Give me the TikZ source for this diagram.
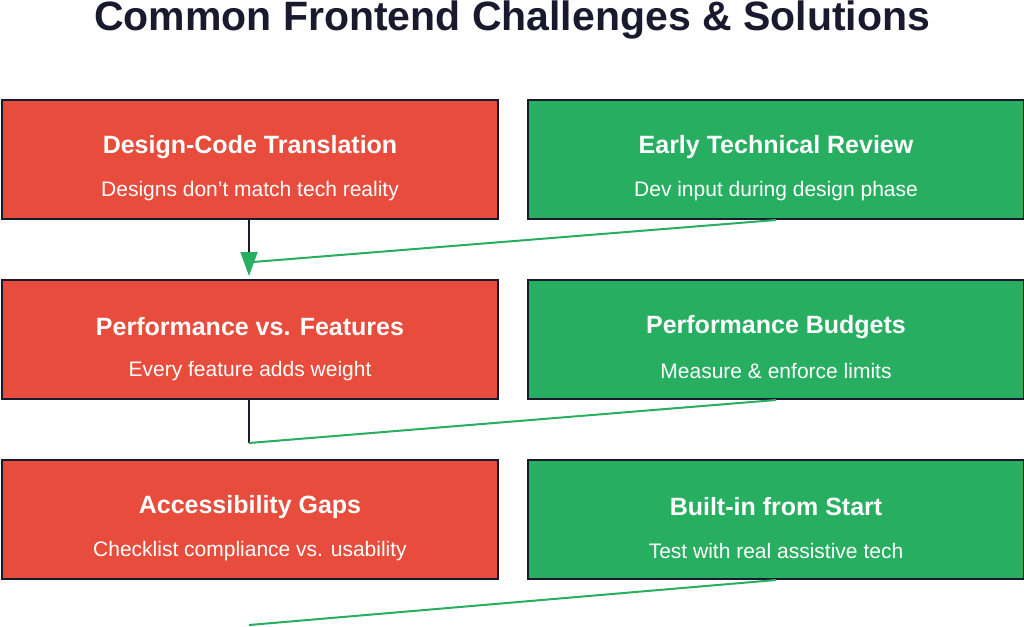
\documentclass[tikz,border=0pt]{standalone}
\usepackage{fontspec}
\setmainfont{Liberation Sans}
\usetikzlibrary{arrows.meta}
\definecolor{rd}{HTML}{E74C3C}
\definecolor{gr}{HTML}{27AE60}
\definecolor{nv}{HTML}{1A1A2E}
\begin{document}
\begin{tikzpicture}[x=1pt,y=-1pt,
 box/.style={draw=nv,line width=2pt,minimum width=496pt,minimum height=119pt,inner sep=0pt,anchor=north west,text=white,align=center},
 rbox/.style={box,fill=rd},gbox/.style={box,fill=gr},
 tt/.style={font=\fontsize{25}{30}\selectfont\bfseries},
 st/.style={font=\fontsize{21}{26}\selectfont}]
\useasboundingbox (0,0) rectangle (1024,626);
\node[font=\fontsize{41}{48}\selectfont\bfseries,text=nv] (title) at (512,20) {Common Frontend Challenges \& Solutions};
\node[rbox] (r1) at (1,99) {}; \node[gbox] (g1) at (527,99) {};
\node[rbox] (r2) at (1,279) {}; \node[gbox] (g2) at (527,279) {};
\node[rbox] (r3) at (1,459) {}; \node[gbox] (g3) at (527,459) {};
\foreach \n/\a/\b in {r1/Design-Code Translation/Designs don't match tech reality,
 g1/Early Technical Review/Dev input during design phase,
 r2/Performance vs. Features/Every feature adds weight,
 g2/Performance Budgets/Measure \& enforce limits,
 r3/Accessibility Gaps/Checklist compliance vs. usability,
 g3/Built-in from Start/Test with real assistive tech}{
 \node[tt,text=white] (\n t) at ([yshift=-48pt]\n.north) {\a};
 \node[st,text=white] (\n s) at ([yshift=-92pt]\n.north) {\b};
}
\coordinate (c1) at (249,276); \coordinate (c1g) at (253,262);
\coordinate (c2) at (249,443); \coordinate (c3) at (249,625);
\draw[nv,line width=2pt,-{Triangle[color=gr,fill=gr,length=24pt,width=17pt]}] (r1.south -| c1) -- (c1);
\draw[gr,line width=2pt] (g1.south) -- (c1g);
\draw[nv,line width=2pt] (r2.south -| c2) -- (c2);
\draw[gr,line width=2pt] (g2.south) -- (c2);
\draw[gr,line width=2pt] (g3.south) -- (c3);
\end{tikzpicture}
\end{document}
